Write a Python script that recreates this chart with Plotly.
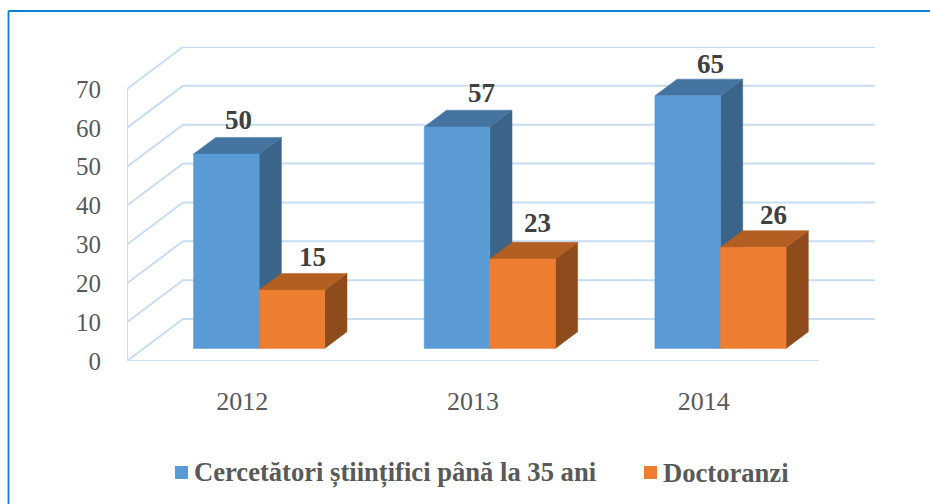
import plotly.graph_objects as go

# ---- data ----
categories = ["2012", "2013", "2014"]
series_names = ["Cercetători științifici până la 35 ani", "Doctoranzi"]
researchers = [50, 57, 65]
doctoral = [15, 23, 26]
value_ticks = [0, 10, 20, 30, 40, 50, 60, 70]

# ---- style ----
W, H = 930, 504
SERIF = "Liberation Serif"
GRID = "#c6ddf2"
FRAME = "#0b7ed6"
BLUE = ("#5b9bd5", "#44749f", "#3a6589")   # front, top, side
ORANGE = ("#ed7d31", "#b35e22", "#8f4b1c")
PX_L, PX_FRONT_R, PX_R = 127.0, 819.0, 875.0
PX_BOTTOM, PX_TOP = 361.0, 46.7
PX_PER_VALUE = 3.886
DEPTH_X = (PX_R - PX_FRONT_R) / ((PX_FRONT_R - PX_L) / 3)   # x units for full depth
DEPTH_Y = (42.0) / PX_PER_VALUE                             # value units for full depth
BAR_W = 65.6 / ((PX_FRONT_R - PX_L) / 3)
BAR_Z0, BAR_Z1 = 0.30, 0.697
LABEL_XSHIFT = {0: [-10, 2, 1], 1: [-2, -7, -2]}
LABEL_YSHIFT = {0: [17, 17, 15], 1: [16, 19, 16]}


def proj(x, v, z):
    return x + DEPTH_X * z, v + DEPTH_Y * z


def poly(points, color):
    xs, ys = zip(*[proj(*p) for p in points + points[:1]])
    return go.Scatter(x=xs, y=ys, mode="lines", fill="toself", fillcolor=color,
                      line=dict(color=color, width=0.5), hoverinfo="skip", showlegend=False)


def grid_line(points):
    xs, ys = zip(*[proj(*p) for p in points])
    return go.Scatter(x=xs, y=ys, mode="lines", line=dict(color=GRID, width=2),
                      hoverinfo="skip", showlegend=False)


def faces(x0, x1, v):
    z0, z1 = BAR_Z0, BAR_Z1
    front = [(x0, 0, z0), (x1, 0, z0), (x1, v, z0), (x0, v, z0)]
    top = [(x0, v, z0), (x1, v, z0), (x1, v, z1), (x0, v, z1)]
    side = [(x1, 0, z0), (x1, 0, z1), (x1, v, z1), (x1, v, z0)]
    return front, top, side


fig = go.Figure()

# walls and floor
for v in value_ticks:
    fig.add_trace(grid_line([(0, v, 0), (0, v, 1), (3, v, 1)]))
fig.add_trace(grid_line([(0, 0, 0), (0, 70, 0)]))
fig.add_trace(grid_line([(0, 0, 0), (3, 0, 0)]))

# bars
for i, cat in enumerate(categories):
    c = i + 0.5
    bf, bt, bs = faces(c - BAR_W, c, researchers[i])
    of, ot, os_ = faces(c, c + BAR_W, doctoral[i])
    fig.add_trace(poly(bs, BLUE[2]))
    fig.add_trace(poly(bt, BLUE[1]))
    fig.add_trace(poly(bf, BLUE[0]))
    fig.add_trace(poly(os_, ORANGE[2]))
    fig.add_trace(poly(ot, ORANGE[1]))
    fig.add_trace(poly(of, ORANGE[0]))

# value labels
annotations = []
for s, (vals, xoff) in enumerate([(researchers, -BAR_W / 2), (doctoral, BAR_W / 2)]):
    for i, v in enumerate(vals):
        px, py = proj(i + 0.5 + xoff, v, BAR_Z1)
        annotations.append(dict(x=px, y=py, xref="x", yref="y", text=str(v), showarrow=False,
                                yanchor="middle", xanchor="center",
                                xshift=LABEL_XSHIFT[s][i], yshift=LABEL_YSHIFT[s][i],
                                font=dict(family=SERIF, size=27, color="#404040", weight="bold")))

# legend
LEG_Y = 472.5
legend_items = [(series_names[0], BLUE[0], 175, 192), (series_names[1], ORANGE[0], 644, 661)]
shapes = [
    dict(type="line", xref="paper", yref="paper", x0=8.5 / W, x1=1, y0=1 - 11 / H, y1=1 - 11 / H,
         line=dict(color=FRAME, width=1.8)),
    dict(type="line", xref="paper", yref="paper", x0=8.5 / W, x1=8.5 / W, y0=0, y1=1 - 11 / H,
         line=dict(color=FRAME, width=1.8)),
]
for name, col, sx, tx in legend_items:
    shapes.append(dict(type="rect", xref="paper", yref="paper", x0=sx / W, x1=(sx + 13) / W,
                       y0=1 - (LEG_Y + 6.5) / H, y1=1 - (LEG_Y - 6.5) / H,
                       fillcolor=col, line=dict(width=0)))
    annotations.append(dict(x=tx / W, y=1 - LEG_Y / H, xref="paper", yref="paper", text=name,
                            showarrow=False, xanchor="left", yanchor="middle",
                            font=dict(family=SERIF, size=26.6, color="#595959", weight="bold")))

fig.update_layout(
    width=W, height=H, margin=dict(l=0, r=0, t=0, b=0, pad=0), autosize=False,
    paper_bgcolor="white", plot_bgcolor="white", showlegend=False,
    annotations=annotations, shapes=shapes,
    xaxis=dict(domain=[PX_L / W, PX_R / W], range=[0, 3 + DEPTH_X], tickmode="array",
               tickvals=[i + 0.5 for i in range(len(categories))], ticktext=categories,
               showgrid=False, zeroline=False, showline=False, ticks="outside", ticklen=17,
               tickcolor="rgba(0,0,0,0)", fixedrange=True, automargin=False,
               tickfont=dict(family=SERIF, size=26, color="#595959")),
    yaxis=dict(domain=[1 - PX_BOTTOM / H, 1 - PX_TOP / H], range=[0, (PX_BOTTOM - PX_TOP) / PX_PER_VALUE],
               tickmode="array", tickvals=value_ticks, ticktext=[str(v) for v in value_ticks],
               showgrid=False, zeroline=False, showline=False, ticks="outside", ticklen=20,
               tickcolor="rgba(0,0,0,0)", fixedrange=True, automargin=False,
               tickfont=dict(family=SERIF, size=25, color="#595959")),
)

fig.write_html("out.html", config=dict(displayModeBar=False),
               post_script="document.body.style.margin='0';")
